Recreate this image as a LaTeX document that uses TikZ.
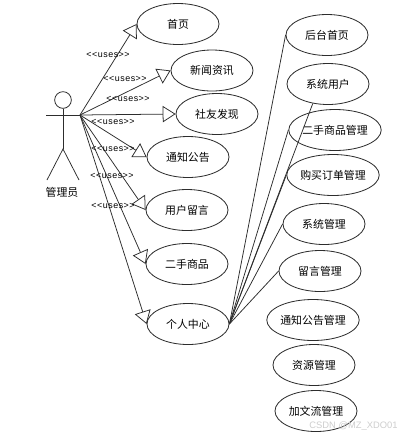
\documentclass[tikz,border=0pt]{standalone}
\usepackage{fontspec}
\usepackage{xcolor}
\usetikzlibrary{arrows.meta,shapes.geometric}
\setmainfont{Noto Sans CJK SC}
\newfontfamily\usesfont[LetterSpace=6]{Liberation Sans}
\newfontfamily\markfont{Liberation Sans}
\definecolor{umlLine}{RGB}{45,45,45}
\definecolor{umlMark}{RGB}{205,205,205}
\tikzset{
  usecase/.style={draw=umlLine, line width=0.7pt, ellipse, inner sep=0pt, minimum width=2.46cm, minimum height=1.23cm, font=\fontsize{9.3}{11}\selectfont},
  usesline/.style={draw=umlLine, line width=0.65pt, -{Triangle[open,length=11pt,width=14pt]}},
  fanline/.style={draw=umlLine, line width=0.65pt},
  usestag/.style={font=\usesfont\fontsize{7.6}{9}\selectfont, inner sep=0pt}
}

\begin{document}
\begin{tikzpicture}[x=0.03cm,y=-0.03cm]
\useasboundingbox (0,0) rectangle (402,438);

% actor
\node[draw=umlLine, line width=0.7pt, circle, inner sep=0pt, minimum size=0.5cm] (actorHead) at (63,100) {};
\coordinate (actorHip) at (63,149);
\coordinate (armLeft) at (46,115);
\coordinate (armRight) at (80,115);
\coordinate (footLeft) at (47,180);
\coordinate (footRight) at (79,180);
\draw[fanline] (actorHead.south)--(actorHip);
\draw[fanline] (armLeft)--(armRight);
\draw[fanline] (footLeft)--(actorHip)--(footRight);
\node[font=\fontsize{9.3}{11}\selectfont] (actorName) at (62,192) {管理员};

% front use cases
\node[usecase] (caseHome) at (178,24) {首页};
\node[usecase] (caseNews) at (212,70.5) {新闻资讯};
\node[usecase] (caseSocial) at (217,114) {社友发现};
\node[usecase] (caseNotice) at (188,157) {通知公告};
\node[usecase] (caseMessage) at (187,210) {用户留言};
\node[usecase] (caseGoods) at (187,264) {二手商品};
\node[usecase] (casePersonal) at (188,324) {个人中心};

% back use cases
\node[usecase] (adminHome) at (327,35) {后台首页};
\node[usecase] (adminUser) at (328,84) {系统用户};
\node[usecase] (adminGoods) at (335,130) {二手商品管理};
\node[usecase] (adminOrder) at (333,175) {购买订单管理};
\node[usecase] (adminSystem) at (324,224) {系统管理};
\node[usecase] (adminMessage) at (320,271) {留言管理};
\node[usecase] (adminNotice) at (313,320) {通知公告管理};
\node[usecase] (adminResource) at (314,365) {资源管理};
\node[usecase] (adminExchange) at (316,411) {加文流管理};

\draw[usesline] (armRight)--(caseHome.west);
\draw[usesline] (armRight)--(caseNews.west);
\draw[usesline] (armRight)--(caseSocial.west);
\draw[usesline] (armRight)--(caseNotice.west);
\draw[usesline] (armRight)--(caseMessage.west);
\draw[usesline] (armRight)--(caseGoods.west);
\draw[usesline] (armRight)--(casePersonal.west);

\draw[fanline] (casePersonal.east)--(adminHome.west);
\draw[fanline] (casePersonal.east)--(adminUser.232);
\draw[fanline] (casePersonal.east)--(adminGoods.west);
\draw[fanline] (casePersonal.east)--(adminOrder.west);
\draw[fanline] (casePersonal.east)--(adminSystem.west);
\draw[fanline] (casePersonal.east)--(adminMessage.west);

\node[usestag] (tagHome) at (108,55) {<{}<uses>{}>};
\node[usestag] (tagNews) at (125,79) {<{}<uses>{}>};
\node[usestag] (tagSocial) at (128,99) {<{}<uses>{}>};
\node[usestag] (tagNotice) at (113,122) {<{}<uses>{}>};
\node[usestag] (tagMessage) at (113,149) {<{}<uses>{}>};
\node[usestag] (tagGoods) at (112,176) {<{}<uses>{}>};
\node[usestag] (tagPersonal) at (113,206) {<{}<uses>{}>};

\node[text=umlMark, font=\markfont\fontsize{8}{9}\selectfont, inner sep=0pt] (markText) at (353.5,426) {CSDN @MZ\_XDO01};
\end{tikzpicture}
\end{document}
